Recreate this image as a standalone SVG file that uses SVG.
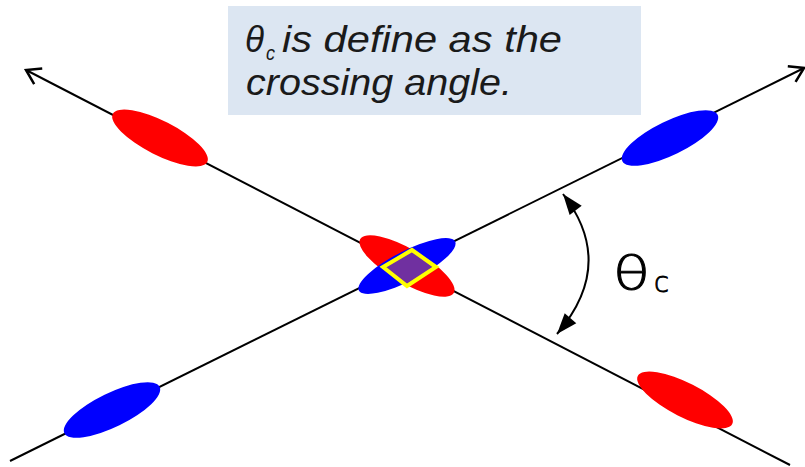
<svg xmlns="http://www.w3.org/2000/svg" width="805" height="467" viewBox="0 0 805 467">
<style>
.ln{stroke:#000;stroke-width:2;fill:none}
.red{fill:#ff0000}
.blue{fill:#0000ff}
.t{font-family:"Liberation Sans","DejaVu Sans",sans-serif;fill:#1a1a1a}
.it{font-style:italic}
.lt{font-family:"DejaVu Sans","Liberation Sans",sans-serif;font-weight:200;fill:#000;stroke:#000;stroke-width:0.9}
</style>
<defs>
<marker id="open" markerWidth="20" markerHeight="20" refX="0" refY="0" viewBox="-12 -8 14 16" orient="auto-start-reverse" markerUnits="userSpaceOnUse">
<path d="M-11,-7 L0,0 L-11,7" fill="none" stroke="#000" stroke-width="2"/>
</marker>
<marker id="fill" markerWidth="24" markerHeight="24" refX="0" refY="0" viewBox="-20 -10 22 20" orient="auto-start-reverse" markerUnits="userSpaceOnUse">
<path d="M-19,-7 L0,0 L-19,7 z" fill="#000"/>
</marker>
</defs>
<rect x="228" y="6" width="413" height="109" fill="#dce6f2"/>
<g id="connectors">
<line class="ln" x1="790" y1="465" x2="26" y2="70" marker-end="url(#open)"/>
<line class="ln" x1="10" y1="461" x2="804" y2="68" marker-end="url(#open)"/>
<path class="ln" d="M563,194 Q617,264 557,334" marker-start="url(#fill)" marker-end="url(#fill)"/>
</g>
<g id="bunch-red-tl"><ellipse class="red" cx="160" cy="138" rx="53" ry="17" transform="rotate(27 160 138)"/></g>
<g id="bunch-red-br"><ellipse class="red" cx="685" cy="400" rx="53" ry="17" transform="rotate(27 685 400)"/></g>
<g id="bunch-blue-tr"><ellipse class="blue" cx="670" cy="138" rx="53" ry="17" transform="rotate(-26 670 138)"/></g>
<g id="bunch-blue-bl"><ellipse class="blue" cx="112" cy="410" rx="53" ry="17" transform="rotate(-26 112 410)"/></g>
<g id="collision">
<ellipse class="red" cx="407" cy="266" rx="54" ry="17" transform="rotate(30 407 266)"/>
<ellipse class="blue" cx="407" cy="266" rx="54" ry="15" transform="rotate(-27 407 266)"/>
<polygon points="412,250 436,267 407,286 383,267" fill="#7030a0" stroke="#ffff00" stroke-width="4" stroke-linejoin="miter"/>
</g>
<g id="note">
<text class="t it" x="245" y="52" font-size="37" textLength="19" lengthAdjust="spacingAndGlyphs">θ</text>
<text class="t it" x="266" y="60" font-size="21" textLength="9" lengthAdjust="spacingAndGlyphs">c</text>
<text class="t it" x="282" y="52" font-size="37" textLength="280" lengthAdjust="spacingAndGlyphs">is define as the</text>
<text class="t it" x="246" y="95" font-size="37" textLength="266" lengthAdjust="spacingAndGlyphs">crossing angle.</text>
</g>
<g id="angle-label">
<text class="lt" x="613" y="289" font-size="46" textLength="37" lengthAdjust="spacingAndGlyphs">θ</text>
<text class="lt" x="654" y="292" font-size="28" textLength="15" lengthAdjust="spacingAndGlyphs">c</text>
</g>
</svg>
